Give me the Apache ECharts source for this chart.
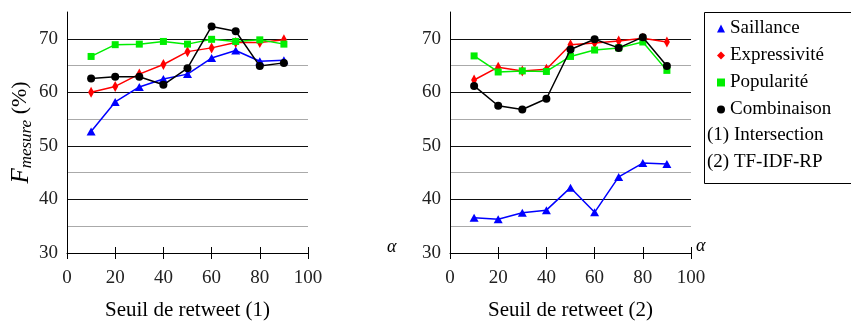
<!DOCTYPE html>
<html>
<head>
<meta charset="utf-8">
<script src="https://cdn.jsdelivr.net/npm/echarts@6/dist/echarts.min.js"></script>
<style>
  html, body { margin: 0; padding: 0; background: #fff; }
  #main { width: 851px; height: 322px; }
</style>
</head>
<body>
<div id="main"></div>
<script>
var seuils = [10, 20, 30, 40, 50, 60, 70, 80, 90];
var seriesNames = ['Saillance', 'Expressivité', 'Popularité', 'Combinaison'];
var extraLegend = ['(1) Intersection', '(2) TF-IDF-RP'];
var axisTitles = ['Seuil de retweet (1)', 'Seuil de retweet (2)'];

// (1) Intersection
var saillance1 = [52.7, 58.2, 61.0, 62.5, 63.4, 66.4, 67.8, 65.8, 66.0];
var expressivite1 = [60.0, 61.1, 63.4, 65.2, 67.6, 68.3, 69.3, 69.3, 69.8];
var popularite1 = [66.7, 68.9, 69.0, 69.5, 69.0, 69.9, 69.5, 69.8, 69.0];
var combinaison1 = [62.6, 62.9, 62.9, 61.4, 64.5, 72.3, 71.4, 64.9, 65.5];

// (2) TF-IDF-RP
var saillance2 = [36.6, 36.3, 37.5, 38.0, 42.2, 37.6, 44.2, 46.8, 46.6];
var expressivite2 = [62.3, 64.7, 64.0, 64.3, 68.9, 69.2, 69.6, 70.1, 69.4];
var popularite2 = [66.8, 63.8, 64.0, 63.9, 66.7, 67.9, 68.3, 69.4, 64.1];
var combinaison2 = [61.2, 57.5, 56.8, 58.8, 68.0, 69.9, 68.3, 70.3, 64.9];

var FONT = 'Liberation Serif';
var colors = ['#0000ff', '#ff0000', '#00ee00', '#000000'];
var symbols = ['triangle', 'diamond', 'rect', 'circle'];
var symbolSizes = [[9, 8], [6, 11], [7, 7], [8, 8]];

var myChart = echarts.init(document.getElementById('main'));

function pairs(vals) {
	return seuils.map(function (s, i) { return [s, vals[i]]; });
}

var gridLeft = [67, 450];
var grids = gridLeft.map(function (l) {
	return { left: l, top: 12, width: 241, height: 241, containLabel: false, outerBoundsMode: 'none' };
});

var xAxes = [];
var yAxes = [];
grids.forEach(function (g, k) {
	xAxes.push({
		type: 'value', gridIndex: k, min: 0, max: 100, interval: 20,
		name: axisTitles[k], nameLocation: 'middle', nameGap: 47,
		nameTextStyle: { fontFamily: FONT, fontSize: 21, color: '#000' },
		axisLine: { onZero: false, lineStyle: { color: '#000', width: 1 } },
		axisTick: { length: 6, lineStyle: { color: '#000' } },
		axisLabel: { margin: 16, fontFamily: FONT, fontSize: 19, color: '#222' },
		splitLine: { show: false }
	});
	// ticks going up into the plot
	xAxes.push({
		type: 'value', gridIndex: k, min: 0, max: 100, interval: 20, position: 'bottom',
		axisLine: { show: false },
		axisTick: { inside: true, length: 6, lineStyle: { color: '#000' } },
		axisLabel: { show: false },
		splitLine: { show: false }
	});
	yAxes.push({
		type: 'value', gridIndex: k, min: 30, max: 75, interval: 5,
		name: k === 0 ? '{f|F}{s|mesure}{n| (%)}' : '',
		nameLocation: 'middle', nameGap: 30, nameRotate: 90,
		nameTextStyle: {
			color: '#000',
			rich: {
				f: { fontFamily: FONT, fontStyle: 'italic', fontSize: 25, verticalAlign: 'top', lineHeight: 26 },
				s: { fontFamily: FONT, fontStyle: 'italic', fontSize: 17, verticalAlign: 'bottom', lineHeight: 26, padding: [11, 0, 0, 0] },
				n: { fontFamily: FONT, fontSize: 22, verticalAlign: 'top', lineHeight: 26 }
			}
		},
		axisLine: { show: true, lineStyle: { color: '#000', width: 1 } },
		axisTick: { show: false },
		axisLabel: {
			margin: 9, fontFamily: FONT, fontSize: 19, color: '#222',
			formatter: function (v) { return (v % 10 === 0 && v <= 70) ? v : ''; }
		},
		splitLine: {
			show: true, showMaxLine: false,
			lineStyle: {
				width: 1,
				color: ['#111', '#aaa', '#111', '#aaa', '#111', '#aaa', '#111', '#aaa', '#111', 'rgba(0,0,0,0)']
			}
		}
	});
});

var data = [
	[saillance1, expressivite1, popularite1, combinaison1],
	[saillance2, expressivite2, popularite2, combinaison2]
];

var series = [];
data.forEach(function (set, k) {
	set.forEach(function (vals, j) {
		series.push({
			type: 'line', name: seriesNames[j],
			xAxisIndex: k * 2, yAxisIndex: k,
			data: pairs(vals),
			color: colors[j],
			symbol: symbols[j], symbolSize: symbolSizes[j],
			showAllSymbol: true,
			lineStyle: { width: 1.5, color: colors[j] },
			itemStyle: { color: colors[j] },
			z: 2 + j
		});
	});
});

var option = {
	animation: false,
	backgroundColor: '#fff',
	textStyle: { fontFamily: FONT },
	grid: grids,
	xAxis: xAxes,
	yAxis: yAxes,
	legend: {
		orient: 'vertical', left: 712, top: 14,
		itemWidth: 8, itemHeight: 8, itemGap: 8,
		textStyle: { fontFamily: FONT, fontSize: 19, color: '#000', lineHeight: 19 },
		data: seriesNames.map(function (n, j) { return { name: n, icon: symbols[j] }; })
	},
	graphic: [
		{
			type: 'rect', left: 704, top: 12, z: -1,
			shape: { width: 170, height: 171 },
			style: { fill: '#fff', stroke: '#000', lineWidth: 1 }
		},
		{
			type: 'text', left: 707, top: 126,
			style: { text: extraLegend[0], font: '19px "Liberation Serif"', fill: '#000' }
		},
		{
			type: 'text', left: 707, top: 153,
			style: { text: extraLegend[1], font: '19px "Liberation Serif"', fill: '#000' }
		},
		{
			type: 'text', left: 387, top: 238,
			style: { text: 'α', font: 'italic 18px "Liberation Serif"', fill: '#000' }
		},
		{
			type: 'text', left: 696, top: 237,
			style: { text: 'α', font: 'italic 18px "Liberation Serif"', fill: '#000' }
		}
	],
	series: series
};

myChart.setOption(option);
</script>
</body>
</html>
